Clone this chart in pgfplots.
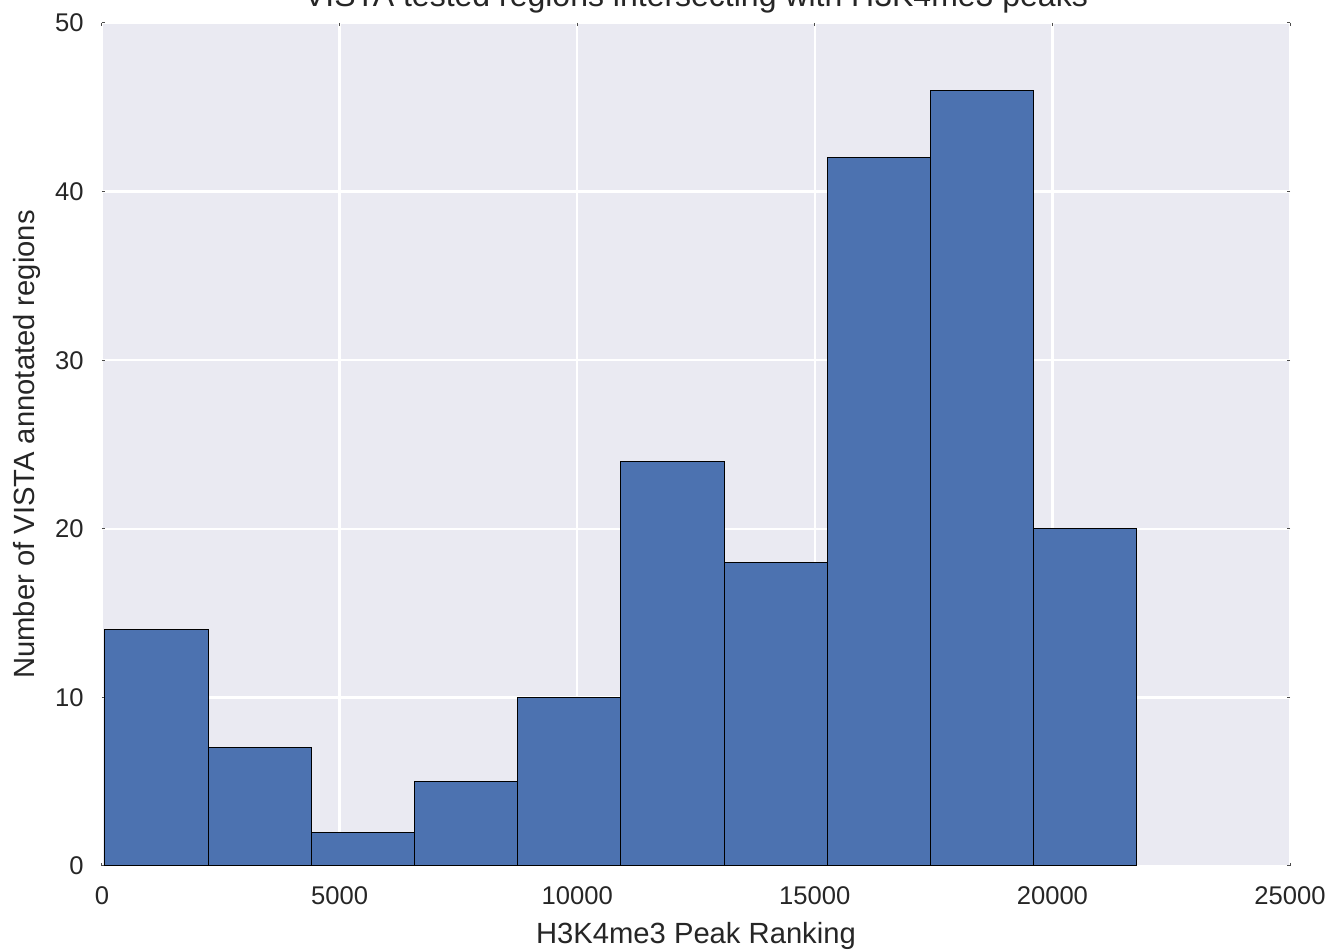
\documentclass[border=0pt]{standalone}
\usepackage{pgfplots}
\pgfplotsset{compat=1.18}
\usepackage{fontspec}
\setmainfont{Liberation Sans}
\definecolor{bgc}{RGB}{234,234,242}
\definecolor{barc}{RGB}{76,114,176}
\definecolor{txt}{RGB}{38,38,38}
\begin{document}
\begin{tikzpicture}
\begin{axis}[
  name=ax, at={(0,0)}, anchor=south west,
  scale only axis, width=594pt, height=421.5pt,
  xmin=0, xmax=25000, ymin=0, ymax=50,
  xtick={0,5000,10000,15000,20000,25000},
  ytick={0,10,20,30,40,50},
  scaled x ticks=false,
  /pgf/number format/1000 sep={},
  /pgf/number format/assume math mode=true,
  axis background/.style={fill=bgc},
  axis line style={draw=none},
  grid=major,
  major grid style={white, line width=1.2pt},
  major tick length=1.5pt,
  tick style={color=black!70, line width=0.5pt},
  ticklabel style={font=\fontsize{12.8}{15}\selectfont, text=txt},
  xticklabel style={anchor=base, inner sep=0pt, yshift=-19.5pt},
  yticklabel style={anchor=east, inner sep=0pt, xshift=-9pt},
  label style={font=\fontsize{14.6}{17}\selectfont, text=txt},
  xlabel={H3K4me3 Peak Ranking},
  xlabel style={at={(axis description cs:0.5,-0.0925)}, anchor=base, inner sep=0pt},
  ylabel={Number of VISTA annotated regions},
  ylabel style={at={(axis description cs:-0.0572,0.5)}, anchor=base, inner sep=0pt},
  title={VISTA tested regions intersecting with H3K4me3 peaks},
  title style={at={(axis description cs:0.5,1.0048)}, anchor=base, inner sep=0pt, font=\fontsize{16}{19}\selectfont, text=txt},
]
\addplot[ybar interval, fill=barc, draw=black, line width=0.5pt] coordinates {
  (63,14) (2234,7) (4405,2) (6576,5) (8747,10) (10919,24)
  (13090,18) (15261,42) (17432,46) (19603,20) (21774,20)
};
\end{axis}
\pgfresetboundingbox
\path (-51pt,-42.5pt) rectangle (616.5pt,433pt);
\end{tikzpicture}
\end{document}
